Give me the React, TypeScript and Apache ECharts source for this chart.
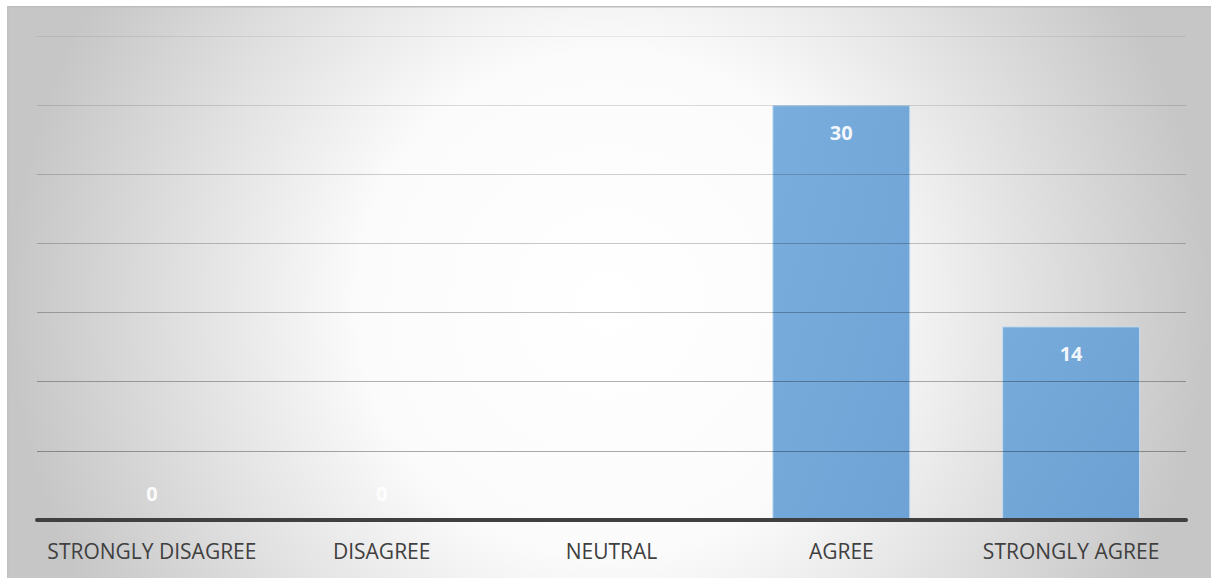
import React, { useEffect, useRef } from "react";
import * as echarts from "echarts";

// Survey responses per answer
const categories = ["STRONGLY DISAGREE", "DISAGREE", "NEUTRAL", "AGREE", "STRONGLY AGREE"];
const responses: (number | null)[] = [0, 0, null, 30, 14];

// Value axis range (no tick labels are drawn, only gridlines)
const axisMin = 0;
const axisMax = 35;
const axisStep = 5;

// Gridline shading, from the baseline upward
const gridAlpha = [0, 0.33, 0.3, 0.26, 0.22, 0.18, 0.13, 0.07];

const W = 1204;
const H = 572;

export default function App() {
  const ref = useRef<HTMLDivElement>(null);

  useEffect(() => {
    if (!ref.current) return;
    const chart = echarts.init(ref.current, null, { renderer: "svg" });

    const barFill = new echarts.graphic.LinearGradient(0, 0, 1, 1, [
      { offset: 0, color: "#6fa7db" },
      { offset: 1, color: "#659dd3" },
    ]);

    const data = responses.map((v) => {
      if (v === null) return { value: null };
      if (v === 0) {
        return {
          value: v,
          label: { position: "top" as const, distance: 16 },
        };
      }
      return { value: v };
    });

    chart.setOption({
      animation: false,
      backgroundColor: "transparent",
      grid: { left: 30, right: 25, top: 30, bottom: 58, containLabel: false },
      graphic: [
        {
          type: "line",
          z: 100,
          shape: { x1: 0, y1: 0.75, x2: W, y2: 0.75 },
          style: { stroke: "#bdbdbd", lineWidth: 1.5 },
        },
        {
          type: "line",
          z: 100,
          shape: { x1: 0.75, y1: 0, x2: 0.75, y2: H },
          style: { stroke: "#c2c2c2", lineWidth: 1.5 },
        },
      ],
      xAxis: {
        type: "category",
        data: categories,
        axisTick: { show: false },
        axisLine: { show: true, lineStyle: { color: "#404040", width: 4 } },
        axisLabel: {
          color: "#404040",
          fontFamily: "Open Sans",
          fontSize: 21,
          margin: 20,
          interval: 0,
        },
        z: 5,
      },
      yAxis: {
        type: "value",
        min: axisMin,
        max: axisMax,
        interval: axisStep,
        axisLabel: { show: false },
        axisLine: { show: false },
        axisTick: { show: false },
        splitLine: {
          show: true,
          lineStyle: {
            color: gridAlpha.map((a) => `rgba(0,0,0,${a})`),
            width: 1.2,
          },
        },
        z: 3,
      },
      series: [
        {
          type: "bar",
          data,
          barWidth: "60%",
          z: 2,
          itemStyle: {
            color: barFill,
            opacity: 0.93,
            borderColor: "#c3dbf1",
            borderWidth: 1,
          },
          label: {
            show: true,
            position: "insideTop",
            distance: 17,
            color: "#ffffff",
            fontFamily: "Open Sans",
            fontWeight: "bold",
            fontSize: 20,
          },
        },
      ],
    });

    return () => chart.dispose();
  }, []);

  return (
    <div
      style={{
        position: "absolute",
        left: 0,
        top: 0,
        width: 1211,
        height: 578,
        background: "#ffffff",
        overflow: "hidden",
      }}
    >
      <div
        ref={ref}
        style={{
          position: "absolute",
          left: 7,
          top: 6,
          width: W,
          height: H,
          background:
            "radial-gradient(circle 600px at 50% 52%, #ffffff 0%, #fbfbfb 42%, #c6c6c6 100%)",
        }}
      />
    </div>
  );
}
